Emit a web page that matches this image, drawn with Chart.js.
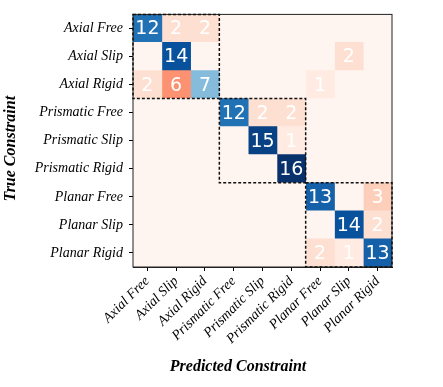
<!DOCTYPE html>
<html>
<head>
<meta charset="utf-8">
<script src="https://cdn.jsdelivr.net/npm/chart.js@4.4.1/dist/chart.umd.min.js"></script>
<style>
html, body { margin: 0; padding: 0; background: #fff; }
</style>
</head>
<body>
<canvas id="cm" width="443" height="387"></canvas>
<script>
// class names, same order on both axes
const trueLabels = ['Axial Free', 'Axial Slip', 'Axial Rigid', 'Prismatic Free', 'Prismatic Slip',
    'Prismatic Rigid', 'Planar Free', 'Planar Slip', 'Planar Rigid'];
const predLabels = trueLabels.slice();

// confusion counts, one array per true class (columns = predicted class)
const axialFree      = [12, 2, 2, 0, 0, 0, 0, 0, 0];
const axialSlip      = [0, 14, 0, 0, 0, 0, 0, 2, 0];
const axialRigid     = [2, 6, 7, 0, 0, 0, 1, 0, 0];
const prismaticFree  = [0, 0, 0, 12, 2, 2, 0, 0, 0];
const prismaticSlip  = [0, 0, 0, 0, 15, 1, 0, 0, 0];
const prismaticRigid = [0, 0, 0, 0, 0, 16, 0, 0, 0];
const planarFree     = [0, 0, 0, 0, 0, 0, 13, 0, 3];
const planarSlip     = [0, 0, 0, 0, 0, 0, 0, 14, 2];
const planarRigid    = [0, 0, 0, 0, 0, 0, 2, 1, 13];
const counts = [axialFree, axialSlip, axialRigid, prismaticFree, prismaticSlip,
    prismaticRigid, planarFree, planarSlip, planarRigid];

// groups outlined with dashed boxes (first and last class index)
const groups = [[0, 2], [3, 5], [6, 8]];
const vmax = 16;

// matplotlib Blues / Reds stops
const blues = ['#f7fbff', '#deebf7', '#c6dbef', '#9ecae1', '#6baed6', '#4292c6', '#2171b5', '#08519c', '#08306b'];
const reds  = ['#fff5f0', '#fee0d2', '#fcbba1', '#fc9272', '#fb6a4a', '#ef3b2c', '#cb181d', '#a50f15', '#67000d'];

function hexToRgb(h) {
    return [parseInt(h.slice(1, 3), 16), parseInt(h.slice(3, 5), 16), parseInt(h.slice(5, 7), 16)];
}

function cmap(stops, t) {
    t = Math.max(0, Math.min(1, t));
    const pos = t * (stops.length - 1);
    const i = Math.min(Math.floor(pos), stops.length - 2);
    const f = pos - i;
    const a = hexToRgb(stops[i]), b = hexToRgb(stops[i + 1]);
    const c = a.map((v, k) => Math.round(v + (b[k] - v) * f));
    return 'rgb(' + c.join(',') + ')';
}

function cellColor(r, c) {
    const t = counts[r][c] / vmax;
    return r === c ? cmap(blues, t) : cmap(reds, t);
}

// one floating-bar dataset per predicted column, spanning [c, c+1]
const datasets = predLabels.map((name, c) => ({
    label: name,
    data: trueLabels.map(() => [c, c + 1]),
    backgroundColor: trueLabels.map((_, r) => cellColor(r, c)),
    borderWidth: 0,
    inflateAmount: 0.4,
    grouped: false,
    barPercentage: 1,
    categoryPercentage: 1
}));

const cellText = {
    id: 'cellText',
    afterDatasetsDraw(chart) {
        const ctx = chart.ctx;
        ctx.save();
        ctx.fillStyle = '#fff';
        ctx.font = '19px "DejaVu Sans"';
        ctx.textAlign = 'center';
        ctx.textBaseline = 'middle';
        chart.data.datasets.forEach((ds, c) => {
            const meta = chart.getDatasetMeta(c);
            meta.data.forEach((el, r) => {
                const v = counts[r][c];
                if (!v) return;
                const p = el.getCenterPoint();
                ctx.fillText(String(v), p.x, p.y + 1);
            });
        });
        ctx.restore();
    }
};

const frameAndBoxes = {
    id: 'frameAndBoxes',
    afterDraw(chart) {
        const ctx = chart.ctx;
        const a = chart.chartArea;
        const xs = chart.scales.x;
        ctx.save();
        // frame
        ctx.strokeStyle = '#222';
        ctx.lineWidth = 1;
        ctx.strokeRect(a.left, a.top, a.right - a.left, a.bottom - a.top);
        // dashed group boxes
        ctx.strokeStyle = '#111';
        ctx.lineWidth = 1.5;
        ctx.setLineDash([3, 2]);
        groups.forEach(([g0, g1]) => {
            const first = chart.getDatasetMeta(g0).data[g0];
            const last = chart.getDatasetMeta(g0).data[g1];
            const x0 = xs.getPixelForValue(g0);
            const x1 = xs.getPixelForValue(g1 + 1);
            const y0 = first.y - first.height / 2;
            const y1 = last.y + last.height / 2;
            ctx.strokeRect(x0, y0, x1 - x0, y1 - y0);
        });
        ctx.setLineDash([]);
        // axis titles
        ctx.fillStyle = '#000';
        ctx.font = 'bold italic 16px "Liberation Serif"';
        ctx.textAlign = 'center';
        ctx.textBaseline = 'middle';
        ctx.fillText('Predicted Constraint', a.left + 105, 367);
        ctx.translate(11, (a.top + a.bottom) / 2 + 8);
        ctx.rotate(-Math.PI / 2);
        ctx.fillText('True Constraint', 0, 0);
        ctx.restore();
    }
};

new Chart(document.getElementById('cm'), {
    type: 'bar',
    data: { labels: trueLabels, datasets: datasets },
    options: {
        indexAxis: 'y',
        responsive: false,
        animation: false,
        layout: { padding: { top: 7, right: 51, left: 0, bottom: 0 } },
        plugins: {
            legend: { display: false },
            tooltip: { enabled: false }
        },
        scales: {
            y: {
                type: 'category',
                offset: true,
                afterFit: (scale) => { scale.width = 133; },
                grid: { offset: false, drawOnChartArea: false, drawTicks: true, tickLength: 4, color: '#000' },
                border: { display: true, color: '#222' },
                ticks: {
                    color: '#000',
                    padding: 6,
                    font: { family: 'Liberation Serif', style: 'italic', size: 14 }
                }
            },
            x: {
                type: 'linear',
                min: 0,
                max: 9,
                afterFit: (scale) => { scale.height = 120; },
                afterBuildTicks: (scale) => {
                    scale.ticks = predLabels.map((_, i) => ({ value: i + 0.5 }));
                },
                grid: { drawOnChartArea: false, drawTicks: true, tickLength: 4, color: '#000' },
                border: { display: true, color: '#222' },
                ticks: {
                    color: '#000',
                    autoSkip: false,
                    minRotation: 45,
                    maxRotation: 45,
                    padding: 2,
                    font: { family: 'Liberation Serif', style: 'italic', size: 14 },
                    callback: (value) => predLabels[Math.floor(value)]
                }
            }
        }
    },
    plugins: [cellText, frameAndBoxes]
});
</script>
</body>
</html>
